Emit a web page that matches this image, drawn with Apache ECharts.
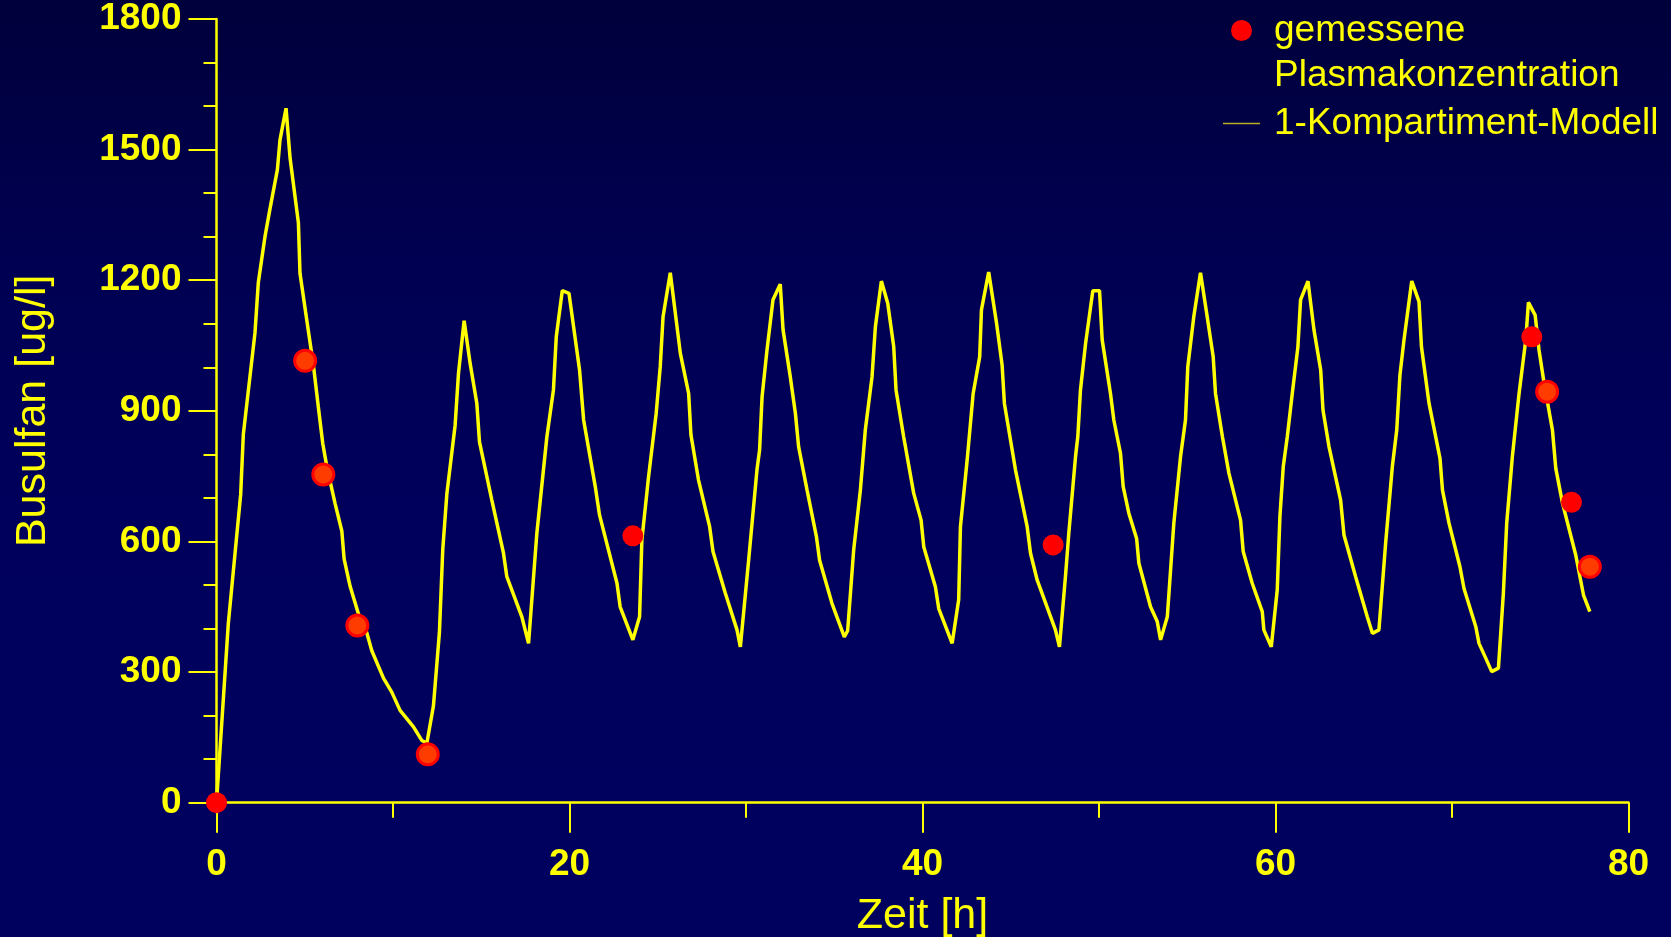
<!DOCTYPE html>
<html>
<head>
<meta charset="utf-8">
<script src="https://cdn.jsdelivr.net/npm/echarts@6/dist/echarts.min.js"></script>
<style>
  html, body { margin: 0; padding: 0; width: 1671px; height: 937px; overflow: hidden;
    background: linear-gradient(to bottom, #00003b 0%, #000052 28%, #00005c 55%, #00005f 100%); }
  #chart { width: 1671px; height: 937px; }
</style>
</head>
<body>
<div id="chart"></div>
<script>
// Model curve (1-compartment model): time [h] and concentration [ug/l]
const modelTime = [0,0.67,1.37,1.52,2.18,2.37,2.75,3.03,3.45,3.6,3.94,4.17,4.64,4.73,5.11,5.49,5.77,6.02,6.25,6.72,7.1,7.23,7.57,8.04,8.51,8.8,9.46,9.93,10.4,11.16,11.63,11.92,
  12.29,12.63,12.82,13.05,13.52,13.71,14.03,14.37,14.75,14.9,15.6,16.26,16.45,17.3,17.68,
  18.15,18.72,19.09,19.25,19.59,19.97,20.57,20.8,21.46,21.7,22.69,22.87,23.59,23.97,
  24.1,24.48,24.91,25.14,25.3,25.71,26.28,26.75,26.88,27.31,27.94,28.13,28.83,29.49,29.68,
  30.15,30.62,30.77,30.91,31.19,31.53,31.94,32.1,32.51,32.8,32.98,33.46,33.99,34.17,34.87,35.57,35.76,
  36.1,36.48,36.76,37.14,37.33,37.67,38.03,38.37,38.5,38.93,39.5,39.92,40.07,40.73,40.92,41.68,
  42.05,42.15,42.53,42.87,43.24,43.34,43.75,44.2,44.51,44.64,45.27,45.93,46.12,46.5,47.53,47.76,
  48.1,48.29,48.67,48.8,48.95,49.24,49.65,50.03,50.18,50.65,50.84,51.22,51.37,51.69,52.13,52.26,52.92,53.3,53.49,53.87,
  54.24,54.62,54.9,55.03,55.37,55.75,56.13,56.47,56.6,56.99,57.36,58.02,58.17,58.68,59.25,59.34,59.76,
  60.1,60.25,60.44,60.67,60.95,61.27,61.42,61.84,62.18,62.56,62.69,63.03,63.69,63.88,64.54,65.2,65.49,65.86,
  66.24,66.62,66.87,67.05,67.28,67.72,68.13,68.27,68.7,69.32,69.46,69.83,70.45,70.68,71.35,71.53,71.91,72.25,72.63,
  72.91,73.1,73.42,73.8,74.18,74.33,74.71,74.93,75.22,75.69,75.88,76.26,77.01,77.45,77.81];
const modelConc = [0,412,708,846,1079,1195,1301,1364,1454,1523,1595,1480,1332,1216,1110,1005,909,825,772,687,624,560,497,434,391,349,286,254,212,174,143,137,
  222,391,582,709,867,986,1107,1009,917,829,695,573,519,427,366,
  619,841,948,1070,1176,1170,994,879,726,661,504,450,374,427,
  603,749,894,1001,1116,1217,1032,940,845,741,634,577,481,397,358,
  557,764,810,932,1040,1155,1191,1086,978,894,818,718,611,557,458,381,395,
  580,718,856,978,1093,1198,1147,1047,948,841,711,649,588,496,446,366,
  466,634,787,940,1024,1132,1219,1100,1005,917,764,634,573,511,397,358,
  520,619,795,841,948,1055,1176,1176,1063,940,879,802,726,665,607,550,450,416,374,427,
  642,795,879,1001,1116,1217,1116,1024,940,841,757,649,577,504,439,397,358,
  489,657,772,841,940,1047,1155,1198,1086,994,902,818,695,615,519,427,389,397,
  596,772,856,982,1063,1198,1151,1047,917,791,718,642,542,492,404,366,332,301,309,
  481,642,795,940,1063,1149,1120,1040,963,856,768,688,569,477,439];

// Measured plasma concentrations
const measuredTime = [0,5.02,6.05,7.98,11.97,23.59,47.4,74.52,75.39,76.77,77.81];
const measuredConc = [0,1015,754,407,111,613,592,1070,944,690,542];
const ringedIdx = [1,2,3,4,8,10];

const xTicks = { min: 0, max: 80, interval: 20 };
const yTicks = { min: 0, max: 1800, interval: 300 };

const modelData = modelTime.map((t, i) => [t, modelConc[i]]);
const solidData = [], ringData = [];
measuredTime.forEach((t, i) => {
  (ringedIdx.includes(i) ? ringData : solidData).push([t, measuredConc[i]]);
});

const YEL = '#ffff00';
const FONT = '"Liberation Sans", Arial, sans-serif';
const chart = echarts.init(document.getElementById('chart'), null, { renderer: 'canvas' });
chart.setOption({
  backgroundColor: 'transparent',
  animation: false,
  grid: { left: 216.5, right: 42.5, top: 19, bottom: 134.3, containLabel: false, outerBoundsMode: 'none' },
  legend: {
    orient: 'vertical',
    left: 1223,
    top: -37,
    padding: 0,
    itemGap: 3,
    itemWidth: 37,
    itemHeight: 21,
    textStyle: { color: YEL, fontSize: 37, fontFamily: FONT, lineHeight: 45, padding: [0, 0, 0, 9] },
    data: [
      { name: 'gemessene Plasmakonzentration', icon: 'circle', itemStyle: { color: '#ff0000', borderWidth: 0 } },
      { name: '1-Kompartiment-Modell', icon: 'path://M0,0H37V1.6H0Z', itemStyle: { color: '#b8b020', borderWidth: 0 } }
    ],
    formatter: function (name) {
      return name === 'gemessene Plasmakonzentration' ? '\ngemessene\nPlasmakonzentration' : name;
    }
  },
  xAxis: {
    type: 'value', min: xTicks.min, max: xTicks.max, interval: xTicks.interval,
    name: 'Zeit [h]', nameLocation: 'middle', nameGap: 92,
    nameTextStyle: { color: YEL, fontSize: 43, fontFamily: FONT },
    axisLine: { show: true, onZero: false, lineStyle: { color: YEL, width: 2.5 } },
    axisTick: { show: true, length: 30, lineStyle: { color: YEL, width: 2 } },
    minorTick: { show: true, splitNumber: 2, length: 15, lineStyle: { color: YEL, width: 2 } },
    axisLabel: { color: YEL, fontSize: 37, fontWeight: 'bold', fontFamily: FONT, margin: 44,
      formatter: function (v) { return String(v); } },
    splitLine: { show: false }
  },
  yAxis: {
    type: 'value', min: yTicks.min, max: yTicks.max, interval: yTicks.interval,
    name: 'Busulfan [ug/l]', nameLocation: 'middle', nameGap: 162, nameRotate: 90,
    nameTextStyle: { color: YEL, fontSize: 43, fontFamily: FONT },
    axisLine: { show: true, onZero: false, lineStyle: { color: YEL, width: 2.5 } },
    axisTick: { show: true, length: 28, lineStyle: { color: YEL, width: 2 } },
    minorTick: { show: true, splitNumber: 3, length: 13, lineStyle: { color: YEL, width: 2 } },
    axisLabel: { color: YEL, fontSize: 37, fontWeight: 'bold', fontFamily: FONT, margin: 35,
      padding: [8, 0, 0, 0],
      formatter: function (v) { return String(v); } },
    splitLine: { show: false }
  },
  series: [
    {
      name: '1-Kompartiment-Modell', type: 'line', data: modelData,
      showSymbol: false, symbol: 'none', smooth: false,
      lineStyle: { color: YEL, width: 3.5 }, itemStyle: { color: '#b8b020' }, z: 2
    },
    {
      name: 'gemessene Plasmakonzentration', type: 'scatter', data: solidData,
      symbolSize: 21, clip: false, itemStyle: { color: '#ff0000', opacity: 1 }, z: 5
    },
    {
      name: 'gemessene Plasmakonzentration', type: 'scatter', data: ringData,
      symbolSize: 21, clip: false,
      itemStyle: { color: '#ff3c00', borderColor: '#ff0000', borderWidth: 3, opacity: 1 }, z: 5
    }
  ]
});
</script>
</body>
</html>
